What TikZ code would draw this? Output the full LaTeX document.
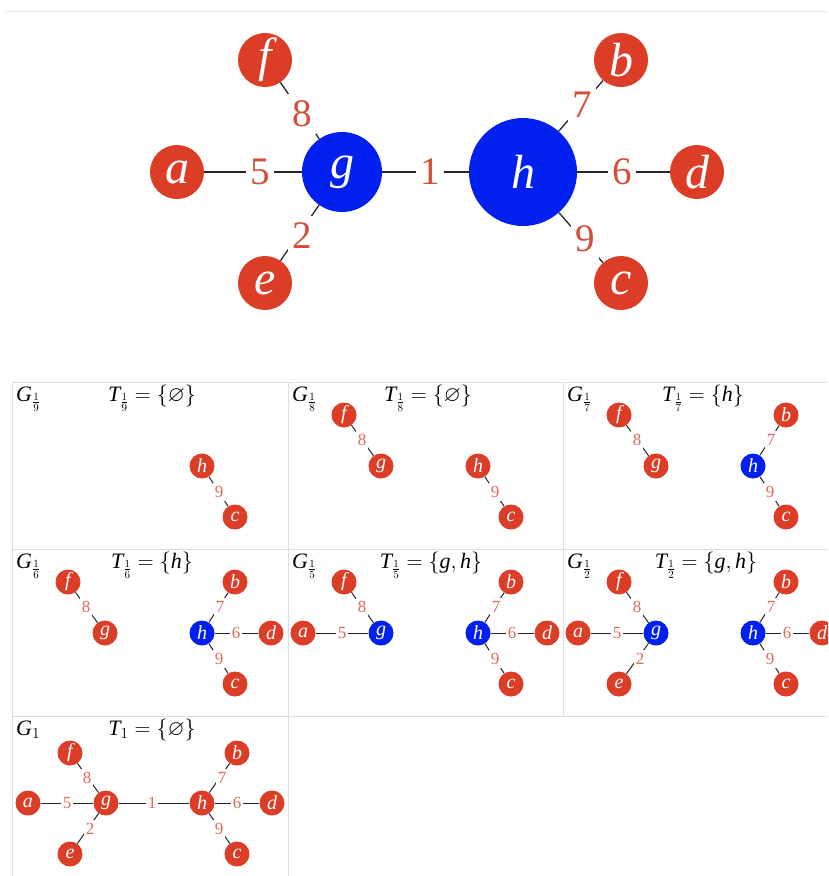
\RequirePackage{fix-cm}
\documentclass[tikz,border=0pt]{standalone}
\usepackage{amssymb}
\usepackage{fontspec}
\setmainfont{Liberation Serif}
\definecolor{nred}{RGB}{220,61,39}
\definecolor{nblue}{RGB}{0,32,240}
\definecolor{lred}{RGB}{212,78,58}
\definecolor{sred}{RGB}{226,106,90}
\definecolor{gridc}{RGB}{222,222,222}
\definecolor{topc}{RGB}{236,236,236}
\tikzset{
  bigred/.style={circle, fill=nred, text=white, inner sep=0pt, minimum size=54pt, font=\fontsize{48pt}{48pt}\selectfont\itshape},
  bigblueg/.style={bigred, fill=nblue, minimum size=80pt},
  bigblueh/.style={bigred, fill=nblue, minimum size=108pt},
  bigedge/.style={draw=black!85, line width=1.3pt},
  biglbl/.style={fill=white, text=lred, inner xsep=4.5pt, inner ysep=7pt, font=\fontsize{39pt}{39pt}\selectfont},
  sn/.style={circle, fill=nred, text=white, inner sep=0pt, minimum size=25pt, font=\fontsize{20pt}{20pt}\selectfont\itshape},
  sb/.style={sn, fill=nblue},
  sedge/.style={draw=black!85, line width=1pt},
  sl/.style={fill=white, text=sred, inner xsep=2pt, inner ysep=3pt, font=\fontsize{17pt}{17pt}\selectfont},
  hdr/.style={font=\fontsize{22pt}{22pt}\selectfont, inner sep=0pt},
  gridline/.style={draw=gridc, line width=1pt},
}
\newcommand\vi[1]{\textit{#1}}
\begin{document}
\begin{tikzpicture}[x=1pt, y=-1pt]
\useasboundingbox (0,0) rectangle (828,876);
\clip (0,0) rectangle (828,876);
\fill[white] (0,0) rectangle (828,876);
% top rule
\coordinate (tl) at (5,11);
\coordinate (tr) at (828,11);
\draw[draw=topc, line width=1pt] (tl) -- (tr);

% ---------- big graph ----------
\node[bigred] (a) at (177,172) {a};
\node[bigred] (f) at (265,60) {f};
\node[bigred] (e) at (265,283) {e};
\node[bigblueg] (g) at (342,172) {g};
\node[bigblueh] (h) at (523,172) {h};
\node[bigred] (b) at (621,60) {b};
\node[bigred] (d) at (697,172) {d};
\node[bigred] (c) at (621,283) {c};
\draw[bigedge] (a) -- (g);
\draw[bigedge] (f) -- (g);
\draw[bigedge] (e) -- (g);
\draw[bigedge] (g) -- (h);
\draw[bigedge] (h) -- (b);
\draw[bigedge] (h) -- (d);
\draw[bigedge] (h) -- (c);
\node[biglbl] (l5) at (260,172) {5};
\node[biglbl] (l8) at (302,114) {8};
\node[biglbl] (l2) at (302,236) {2};
\node[biglbl] (l1) at (430,172) {1};
\node[biglbl] (l7) at (582,105) {7};
\node[biglbl] (l6) at (622,172) {6};
\node[biglbl] (l9) at (585,239) {9};

% ---------- grid ----------
\coordinate (h1l) at (12,382); \coordinate (h1r) at (828,382);
\coordinate (h2l) at (12,549); \coordinate (h2r) at (828,549);
\coordinate (h3l) at (12,716); \coordinate (h3r) at (828,716);
\coordinate (v1t) at (12,382); \coordinate (v1b) at (12,876);
\coordinate (v2t) at (288,382); \coordinate (v2b) at (288,876);
\coordinate (v3t) at (563,382); \coordinate (v3b) at (563,716);
\draw[gridline] (h1l) -- (h1r);
\draw[gridline] (h2l) -- (h2r);
\draw[gridline] (h3l) -- (h3r);
\draw[gridline] (v1t) -- (v1b);
\draw[gridline] (v2t) -- (v2b);
\draw[gridline] (v3t) -- (v3b);

% ---------- panel 1 ----------
\begin{scope}[shift={(12,382)}, name prefix=p1-]
\node[hdr, anchor=base west] (G) at (4,19) {$\vi{G}_{\frac{1}{9}}$};
\node[hdr, anchor=base] (T) at (140,19) {$\vi{T}_{\frac{1}{9}}=\{\varnothing\}$};
\node[sn] (h) at (190,84) {h};
\node[sn] (c) at (223,135) {c};
\draw[sedge] (h) -- (c);
\node[sl] (l9) at (207,110) {9};
\end{scope}

% ---------- panel 2 ----------
\begin{scope}[shift={(288,382)}, name prefix=p2-]
\node[hdr, anchor=base west] (G) at (4,19) {$\vi{G}_{\frac{1}{8}}$};
\node[hdr, anchor=base] (T) at (140,19) {$\vi{T}_{\frac{1}{8}}=\{\varnothing\}$};
\node[sn] (f) at (56,33) {f};
\node[sn] (g) at (93,84) {g};
\node[sn] (h) at (190,84) {h};
\node[sn] (c) at (223,135) {c};
\draw[sedge] (f) -- (g);
\draw[sedge] (h) -- (c);
\node[sl] (l8) at (74,58) {8};
\node[sl] (l9) at (207,110) {9};
\end{scope}

% ---------- panel 3 ----------
\begin{scope}[shift={(563,382)}, name prefix=p3-]
\node[hdr, anchor=base west] (G) at (4,19) {$\vi{G}_{\frac{1}{7}}$};
\node[hdr, anchor=base] (T) at (140,19) {$\vi{T}_{\frac{1}{7}}=\{\vi{h}\}$};
\node[sn] (f) at (56,33) {f};
\node[sn] (g) at (93,84) {g};
\node[sb] (h) at (190,84) {h};
\node[sn] (b) at (223,33) {b};
\node[sn] (c) at (223,135) {c};
\draw[sedge] (f) -- (g);
\draw[sedge] (h) -- (b);
\draw[sedge] (h) -- (c);
\node[sl] (l8) at (74,58) {8};
\node[sl] (l7) at (208,58) {7};
\node[sl] (l9) at (207,110) {9};
\end{scope}

% ---------- panel 4 ----------
\begin{scope}[shift={(12,549)}, name prefix=p4-]
\node[hdr, anchor=base west] (G) at (4,19) {$\vi{G}_{\frac{1}{6}}$};
\node[hdr, anchor=base] (T) at (140,19) {$\vi{T}_{\frac{1}{6}}=\{\vi{h}\}$};
\node[sn] (f) at (56,33) {f};
\node[sn] (g) at (93,84) {g};
\node[sb] (h) at (190,84) {h};
\node[sn] (b) at (223,33) {b};
\node[sn] (d) at (259,84) {d};
\node[sn] (c) at (223,135) {c};
\draw[sedge] (f) -- (g);
\draw[sedge] (h) -- (b);
\draw[sedge] (h) -- (d);
\draw[sedge] (h) -- (c);
\node[sl] (l8) at (74,58) {8};
\node[sl] (l7) at (208,58) {7};
\node[sl] (l6) at (224,84) {6};
\node[sl] (l9) at (207,110) {9};
\end{scope}

% ---------- panel 5 ----------
\begin{scope}[shift={(288,549)}, name prefix=p5-]
\node[hdr, anchor=base west] (G) at (4,19) {$\vi{G}_{\frac{1}{5}}$};
\node[hdr, anchor=base] (T) at (143,19) {$\vi{T}_{\frac{1}{5}}=\bigl\{\vi{g},\vi{h}\bigr\}$};
\node[sn] (a) at (15,84) {a};
\node[sn] (f) at (56,33) {f};
\node[sb] (g) at (93,84) {g};
\node[sb] (h) at (190,84) {h};
\node[sn] (b) at (223,33) {b};
\node[sn] (d) at (259,84) {d};
\node[sn] (c) at (223,135) {c};
\draw[sedge] (a) -- (g);
\draw[sedge] (f) -- (g);
\draw[sedge] (h) -- (b);
\draw[sedge] (h) -- (d);
\draw[sedge] (h) -- (c);
\node[sl] (l5) at (54,84) {5};
\node[sl] (l8) at (74,58) {8};
\node[sl] (l7) at (208,58) {7};
\node[sl] (l6) at (224,84) {6};
\node[sl] (l9) at (207,110) {9};
\end{scope}

% ---------- panel 6 ----------
\begin{scope}[shift={(563,549)}, name prefix=p6-]
\node[hdr, anchor=base west] (G) at (4,19) {$\vi{G}_{\frac{1}{2}}$};
\node[hdr, anchor=base] (T) at (143,19) {$\vi{T}_{\frac{1}{2}}=\bigl\{\vi{g},\vi{h}\bigr\}$};
\node[sn] (a) at (15,84) {a};
\node[sn] (f) at (56,33) {f};
\node[sb] (g) at (93,84) {g};
\node[sn] (e) at (56,135) {e};
\node[sb] (h) at (190,84) {h};
\node[sn] (b) at (223,33) {b};
\node[sn] (d) at (259,84) {d};
\node[sn] (c) at (223,135) {c};
\draw[sedge] (a) -- (g);
\draw[sedge] (f) -- (g);
\draw[sedge] (e) -- (g);
\draw[sedge] (h) -- (b);
\draw[sedge] (h) -- (d);
\draw[sedge] (h) -- (c);
\node[sl] (l5) at (54,84) {5};
\node[sl] (l8) at (74,58) {8};
\node[sl] (l2) at (77,110) {2};
\node[sl] (l7) at (208,58) {7};
\node[sl] (l6) at (224,84) {6};
\node[sl] (l9) at (207,110) {9};
\end{scope}

% ---------- panel 7 ----------
\begin{scope}[shift={(12,716)}, name prefix=p7-]
\node[hdr, anchor=base west] (G) at (4,19) {$\vi{G}_{1}$};
\node[hdr, anchor=base] (T) at (140,19) {$\vi{T}_{1}=\{\varnothing\}$};
\node[sn] (a) at (16,87) {a};
\node[sn] (f) at (58,37) {f};
\node[sn] (g) at (94,87) {g};
\node[sn] (e) at (58,138) {e};
\node[sn] (h) at (190,87) {h};
\node[sn] (b) at (225,37) {b};
\node[sn] (d) at (260,87) {d};
\node[sn] (c) at (225,138) {c};
\draw[sedge] (a) -- (g);
\draw[sedge] (f) -- (g);
\draw[sedge] (e) -- (g);
\draw[sedge] (g) -- (h);
\draw[sedge] (h) -- (b);
\draw[sedge] (h) -- (d);
\draw[sedge] (h) -- (c);
\node[sl] (l5) at (55,87) {5};
\node[sl] (l8) at (75,62) {8};
\node[sl] (l2) at (78,113) {2};
\node[sl] (l1) at (140,87) {1};
\node[sl] (l7) at (210,62) {7};
\node[sl] (l6) at (225,87) {6};
\node[sl] (l9) at (207,113) {9};
\end{scope}
\end{tikzpicture}
\end{document}
